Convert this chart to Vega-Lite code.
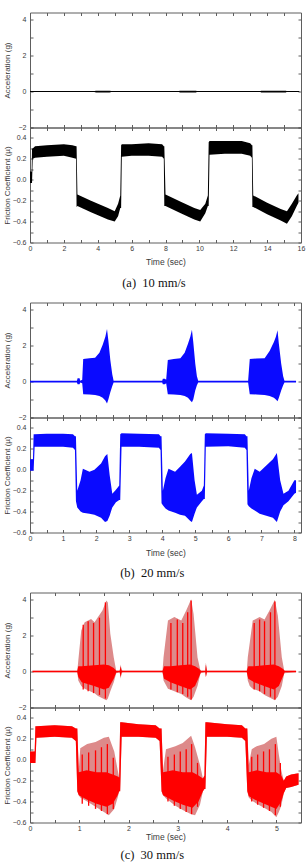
{
"$schema": "https://vega.github.io/schema/vega-lite/v6.json",
"padding": {"left": 2, "right": 2, "top": 11.5, "bottom": 0},
"spacing": 12,
"config": {
  "view": {"stroke": "#5e5e5e", "strokeWidth": 1},
  "axis": {"labelFont": "Liberation Sans", "labelFontSize": 7, "labelColor": "#3a3a3a", "titleFont": "Liberation Sans", "titleFontSize": 8, "titleFontWeight": "normal", "titleColor": "#3a3a3a", "domain": false, "grid": false, "tickColor": "#5e5e5e", "tickSize": -3, "labelFlush": false, "labelOverlap": false},
  "axisX": {"labelPadding": 4.5},
  "axisY": {"labelPadding": 7},
  "title": {"font": "Liberation Serif", "fontSize": 12.5, "fontWeight": "normal", "color": "#111111", "anchor": "middle", "orient": "bottom"}
},
"datasets": {
  "a_acc": [
    {"t":0,"lo":-0.03,"hi":0.03},{"t":3.8,"lo":-0.03,"hi":0.03},{"t":3.9,"lo":-0.05,"hi":0.05},{"t":4.7,"lo":-0.05,"hi":0.05},{"t":4.8,"lo":-0.03,"hi":0.03},
    {"t":8.8,"lo":-0.03,"hi":0.03},{"t":8.85,"lo":-0.05,"hi":0.05},{"t":9.8,"lo":-0.05,"hi":0.05},{"t":9.85,"lo":-0.03,"hi":0.03},
    {"t":13.6,"lo":-0.03,"hi":0.03},{"t":13.65,"lo":-0.05,"hi":0.05},{"t":15.1,"lo":-0.05,"hi":0.05},{"t":15.15,"lo":-0.03,"hi":0.03},{"t":15.9,"lo":-0.03,"hi":0.03}
  ],
  "a_fric": [
    {"t":0,"lo":-0.03,"hi":0.08},{"t":0.1,"lo":-0.03,"hi":0.08},{"t":0.12,"lo":-0.03,"hi":0.3},{"t":0.16,"lo":0.2,"hi":0.3},{"t":0.3,"lo":0.21,"hi":0.32},{"t":1.0,"lo":0.22,"hi":0.33},{"t":2.0,"lo":0.23,"hi":0.34},{"t":2.5,"lo":0.21,"hi":0.33},{"t":2.72,"lo":0.2,"hi":0.32},
    {"t":2.75,"lo":-0.26,"hi":0.32},{"t":2.8,"lo":-0.25,"hi":-0.14},{"t":3.6,"lo":-0.31,"hi":-0.2},{"t":4.6,"lo":-0.38,"hi":-0.27},{"t":5.0,"lo":-0.4,"hi":-0.3},{"t":5.2,"lo":-0.35,"hi":-0.23},{"t":5.33,"lo":-0.27,"hi":-0.15},
    {"t":5.38,"lo":-0.27,"hi":0.33},{"t":5.42,"lo":0.22,"hi":0.34},{"t":6.0,"lo":0.23,"hi":0.34},{"t":7.0,"lo":0.23,"hi":0.35},{"t":7.8,"lo":0.22,"hi":0.34},{"t":7.9,"lo":0.2,"hi":0.32},
    {"t":7.93,"lo":-0.25,"hi":0.32},{"t":8.0,"lo":-0.25,"hi":-0.14},{"t":8.9,"lo":-0.32,"hi":-0.21},{"t":9.7,"lo":-0.38,"hi":-0.27},{"t":10.05,"lo":-0.4,"hi":-0.29},{"t":10.35,"lo":-0.32,"hi":-0.23},{"t":10.5,"lo":-0.25,"hi":-0.15},
    {"t":10.55,"lo":-0.25,"hi":0.36},{"t":10.6,"lo":0.24,"hi":0.37},{"t":11.5,"lo":0.25,"hi":0.37},{"t":12.5,"lo":0.25,"hi":0.37},{"t":13.0,"lo":0.23,"hi":0.35},{"t":13.1,"lo":0.21,"hi":0.33},
    {"t":13.13,"lo":-0.26,"hi":0.33},{"t":13.18,"lo":-0.26,"hi":-0.15},{"t":14.0,"lo":-0.33,"hi":-0.22},{"t":14.8,"lo":-0.39,"hi":-0.28},{"t":15.17,"lo":-0.42,"hi":-0.3},{"t":15.46,"lo":-0.35,"hi":-0.23},{"t":15.75,"lo":-0.25,"hi":-0.15},{"t":15.85,"lo":-0.22,"hi":-0.13}
  ],
  "b_acc": [
    {"t":0,"lo":-0.05,"hi":0.05},{"t":1.42,"lo":-0.05,"hi":0.05},{"t":1.44,"lo":-0.15,"hi":0.18},{"t":1.5,"lo":-0.15,"hi":0.18},{"t":1.52,"lo":-0.05,"hi":0.05},{"t":1.58,"lo":-0.1,"hi":0.1},
    {"t":1.61,"lo":-0.7,"hi":1.25},{"t":1.8,"lo":-0.72,"hi":1.3},{"t":1.97,"lo":-0.75,"hi":1.32},{"t":2.1,"lo":-0.8,"hi":1.6},{"t":2.2,"lo":-0.9,"hi":2.05},{"t":2.28,"lo":-1.05,"hi":2.5},{"t":2.33,"lo":-1.22,"hi":2.92},{"t":2.37,"lo":-1.0,"hi":2.3},{"t":2.43,"lo":-0.6,"hi":1.2},{"t":2.49,"lo":-0.25,"hi":0.4},{"t":2.53,"lo":-0.05,"hi":0.05},
    {"t":4.0,"lo":-0.05,"hi":0.05},{"t":4.02,"lo":-0.15,"hi":0.15},{"t":4.08,"lo":-0.15,"hi":0.15},{"t":4.12,"lo":-0.1,"hi":0.1},
    {"t":4.17,"lo":-0.7,"hi":1.2},{"t":4.35,"lo":-0.72,"hi":1.25},{"t":4.55,"lo":-0.75,"hi":1.3},{"t":4.68,"lo":-0.8,"hi":1.6},{"t":4.78,"lo":-0.9,"hi":2.1},{"t":4.85,"lo":-1.05,"hi":2.5},{"t":4.9,"lo":-1.15,"hi":2.88},{"t":4.94,"lo":-1.0,"hi":2.2},{"t":5.0,"lo":-0.5,"hi":1.0},{"t":5.05,"lo":-0.2,"hi":0.3},{"t":5.09,"lo":-0.05,"hi":0.05},
    {"t":6.6,"lo":-0.05,"hi":0.05},{"t":6.65,"lo":-0.7,"hi":1.25},{"t":6.85,"lo":-0.72,"hi":1.28},{"t":7.1,"lo":-0.75,"hi":1.3},{"t":7.25,"lo":-0.8,"hi":1.7},{"t":7.38,"lo":-0.9,"hi":2.2},{"t":7.44,"lo":-1.0,"hi":2.5},{"t":7.49,"lo":-1.1,"hi":2.85},{"t":7.53,"lo":-0.9,"hi":2.1},{"t":7.6,"lo":-0.5,"hi":1.0},{"t":7.66,"lo":-0.2,"hi":0.3},{"t":7.7,"lo":-0.05,"hi":0.05},{"t":8.05,"lo":-0.05,"hi":0.05}
  ],
  "b_fric": [
    {"t":0,"lo":-0.01,"hi":0.1},{"t":0.09,"lo":-0.01,"hi":0.1},{"t":0.11,"lo":-0.01,"hi":0.34},{"t":0.14,"lo":0.22,"hi":0.34},{"t":0.5,"lo":0.22,"hi":0.345},{"t":1.0,"lo":0.22,"hi":0.345},{"t":1.3,"lo":0.21,"hi":0.34},{"t":1.36,"lo":0.19,"hi":0.32},
    {"t":1.39,"lo":-0.3,"hi":0.32},{"t":1.43,"lo":-0.36,"hi":-0.2},{"t":1.53,"lo":-0.4,"hi":-0.1},{"t":1.6,"lo":-0.41,"hi":0.01},{"t":1.8,"lo":-0.42,"hi":-0.02},{"t":1.95,"lo":-0.43,"hi":0.0},{"t":2.15,"lo":-0.46,"hi":0.06},{"t":2.27,"lo":-0.5,"hi":0.13},{"t":2.34,"lo":-0.49,"hi":0.15},{"t":2.41,"lo":-0.44,"hi":-0.05},{"t":2.49,"lo":-0.36,"hi":-0.23},{"t":2.6,"lo":-0.31,"hi":-0.19},{"t":2.7,"lo":-0.29,"hi":-0.15},
    {"t":2.73,"lo":-0.29,"hi":0.34},{"t":2.77,"lo":0.22,"hi":0.35},{"t":3.3,"lo":0.22,"hi":0.345},{"t":3.9,"lo":0.21,"hi":0.34},{"t":3.95,"lo":0.19,"hi":0.32},
    {"t":3.98,"lo":-0.32,"hi":0.32},{"t":4.02,"lo":-0.34,"hi":-0.2},{"t":4.1,"lo":-0.37,"hi":-0.08},{"t":4.19,"lo":-0.39,"hi":0.01},{"t":4.39,"lo":-0.41,"hi":-0.02},{"t":4.54,"lo":-0.43,"hi":0.03},{"t":4.69,"lo":-0.44,"hi":0.08},{"t":4.85,"lo":-0.49,"hi":0.15},{"t":4.9,"lo":-0.5,"hi":0.16},{"t":4.98,"lo":-0.42,"hi":-0.1},{"t":5.05,"lo":-0.36,"hi":-0.24},{"t":5.2,"lo":-0.3,"hi":-0.2},{"t":5.26,"lo":-0.28,"hi":-0.15},
    {"t":5.29,"lo":-0.28,"hi":0.34},{"t":5.32,"lo":0.22,"hi":0.35},{"t":6.0,"lo":0.225,"hi":0.345},{"t":6.5,"lo":0.21,"hi":0.34},{"t":6.55,"lo":0.19,"hi":0.32},
    {"t":6.58,"lo":-0.33,"hi":0.32},{"t":6.62,"lo":-0.35,"hi":-0.2},{"t":6.7,"lo":-0.37,"hi":-0.08},{"t":6.8,"lo":-0.39,"hi":0.01},{"t":6.95,"lo":-0.42,"hi":-0.02},{"t":7.15,"lo":-0.44,"hi":0.04},{"t":7.35,"lo":-0.46,"hi":0.1},{"t":7.47,"lo":-0.5,"hi":0.16},{"t":7.57,"lo":-0.4,"hi":-0.1},{"t":7.67,"lo":-0.34,"hi":-0.23},{"t":7.82,"lo":-0.3,"hi":-0.2},{"t":8.0,"lo":-0.23,"hi":-0.1},{"t":8.05,"lo":-0.22,"hi":-0.1}
  ],
  "c_acc_outer": [
    {"t":0.05,"lo":-0.04,"hi":0.04},{"t":0.96,"lo":-0.04,"hi":0.04},{"t":0.98,"lo":-0.5,"hi":0.6},{"t":1.04,"lo":-0.8,"hi":2.28},{"t":1.11,"lo":-0.95,"hi":2.75},{"t":1.24,"lo":-1.12,"hi":2.93},{"t":1.31,"lo":-1.2,"hi":2.75},{"t":1.38,"lo":-1.36,"hi":3.03},{"t":1.47,"lo":-1.48,"hi":3.4},{"t":1.55,"lo":-1.6,"hi":3.96},{"t":1.58,"lo":-1.5,"hi":3.85},{"t":1.63,"lo":-1.1,"hi":2.1},{"t":1.7,"lo":-0.6,"hi":0.78},{"t":1.75,"lo":-0.1,"hi":0.05},
    {"t":1.82,"lo":-0.04,"hi":0.04},{"t":1.84,"lo":-0.4,"hi":0.4},{"t":1.86,"lo":-0.1,"hi":0.1},{"t":1.88,"lo":-0.04,"hi":0.04},
    {"t":2.69,"lo":-0.04,"hi":0.04},{"t":2.71,"lo":-0.5,"hi":0.8},{"t":2.8,"lo":-0.95,"hi":2.84},{"t":2.93,"lo":-1.1,"hi":3.03},{"t":3.07,"lo":-1.25,"hi":2.84},{"t":3.17,"lo":-1.45,"hi":3.4},{"t":3.27,"lo":-1.6,"hi":4.03},{"t":3.32,"lo":-1.4,"hi":3.2},{"t":3.4,"lo":-0.8,"hi":0.78},{"t":3.46,"lo":-0.1,"hi":0.05},
    {"t":3.55,"lo":-0.04,"hi":0.04},{"t":3.57,"lo":-0.3,"hi":0.5},{"t":3.59,"lo":-0.04,"hi":0.04},
    {"t":4.4,"lo":-0.04,"hi":0.04},{"t":4.42,"lo":-0.5,"hi":0.8},{"t":4.46,"lo":-0.8,"hi":1.6},{"t":4.52,"lo":-0.95,"hi":2.84},{"t":4.66,"lo":-1.1,"hi":3.03},{"t":4.76,"lo":-1.3,"hi":2.9},{"t":4.86,"lo":-1.45,"hi":3.4},{"t":4.97,"lo":-1.6,"hi":4.0},{"t":5.03,"lo":-1.4,"hi":3.1},{"t":5.11,"lo":-0.8,"hi":0.8},{"t":5.16,"lo":-0.1,"hi":0.05},{"t":5.4,"lo":-0.04,"hi":0.04}
  ],
  "c_acc_core": [
    {"t":0.05,"lo":-0.04,"hi":0.04},{"t":0.96,"lo":-0.04,"hi":0.04},{"t":0.98,"lo":-0.3,"hi":0.3},{"t":1.05,"lo":-0.6,"hi":0.3},{"t":1.3,"lo":-0.8,"hi":0.35},{"t":1.5,"lo":-1.0,"hi":0.4},{"t":1.6,"lo":-0.9,"hi":0.35},{"t":1.7,"lo":-0.4,"hi":0.2},{"t":1.75,"lo":-0.05,"hi":0.05},
    {"t":1.82,"lo":-0.04,"hi":0.04},{"t":1.84,"lo":-0.3,"hi":0.3},{"t":1.86,"lo":-0.04,"hi":0.04},
    {"t":2.69,"lo":-0.04,"hi":0.04},{"t":2.72,"lo":-0.4,"hi":0.3},{"t":2.85,"lo":-0.6,"hi":0.3},{"t":3.05,"lo":-0.8,"hi":0.35},{"t":3.25,"lo":-1.0,"hi":0.4},{"t":3.35,"lo":-0.8,"hi":0.3},{"t":3.43,"lo":-0.3,"hi":0.15},{"t":3.47,"lo":-0.04,"hi":0.04},
    {"t":3.56,"lo":-0.04,"hi":0.04},{"t":3.57,"lo":-0.3,"hi":0.4},{"t":3.59,"lo":-0.04,"hi":0.04},
    {"t":4.4,"lo":-0.04,"hi":0.04},{"t":4.43,"lo":-0.4,"hi":0.3},{"t":4.55,"lo":-0.6,"hi":0.3},{"t":4.75,"lo":-0.8,"hi":0.35},{"t":4.95,"lo":-1.0,"hi":0.4},{"t":5.05,"lo":-0.8,"hi":0.3},{"t":5.13,"lo":-0.3,"hi":0.15},{"t":5.17,"lo":-0.04,"hi":0.04},{"t":5.4,"lo":-0.04,"hi":0.04}
  ],
  "c_acc_spikes": [
    {"t":1.08,"lo":-1.0,"hi":2.6},{"t":1.18,"lo":-1.1,"hi":2.8},{"t":1.29,"lo":-1.2,"hi":2.7},{"t":1.41,"lo":-1.3,"hi":3.0},{"t":1.53,"lo":-1.5,"hi":3.85},
    {"t":2.86,"lo":-1.0,"hi":2.7},{"t":2.99,"lo":-1.15,"hi":2.9},{"t":3.1,"lo":-1.25,"hi":2.7},{"t":3.2,"lo":-1.4,"hi":3.3},{"t":3.27,"lo":-1.55,"hi":3.95},
    {"t":4.55,"lo":-1.0,"hi":2.7},{"t":4.66,"lo":-1.1,"hi":2.9},{"t":4.76,"lo":-1.25,"hi":2.8},{"t":4.88,"lo":-1.4,"hi":3.3},{"t":4.97,"lo":-1.55,"hi":3.9}
  ],
  "c_fric_outer": [
    {"t":0,"lo":-0.03,"hi":0.08},{"t":0.095,"lo":-0.03,"hi":0.08},{"t":0.11,"lo":-0.03,"hi":0.32},{"t":0.13,"lo":0.21,"hi":0.32},{"t":0.5,"lo":0.22,"hi":0.33},{"t":0.85,"lo":0.21,"hi":0.32},{"t":0.93,"lo":0.18,"hi":0.3},
    {"t":0.96,"lo":-0.3,"hi":0.3},{"t":0.99,"lo":-0.34,"hi":-0.1},{"t":1.02,"lo":-0.36,"hi":0.11},{"t":1.16,"lo":-0.4,"hi":0.15},{"t":1.33,"lo":-0.45,"hi":0.17},{"t":1.5,"lo":-0.5,"hi":0.21},{"t":1.6,"lo":-0.53,"hi":0.22},{"t":1.71,"lo":-0.47,"hi":0.08},{"t":1.78,"lo":-0.36,"hi":-0.1},{"t":1.81,"lo":-0.3,"hi":-0.17},
    {"t":1.83,"lo":-0.3,"hi":0.36},{"t":1.86,"lo":0.22,"hi":0.36},{"t":2.2,"lo":0.22,"hi":0.34},{"t":2.55,"lo":0.21,"hi":0.33},{"t":2.63,"lo":0.18,"hi":0.3},
    {"t":2.67,"lo":-0.3,"hi":0.3},{"t":2.7,"lo":-0.34,"hi":-0.1},{"t":2.76,"lo":-0.37,"hi":0.1},{"t":2.95,"lo":-0.44,"hi":0.13},{"t":3.1,"lo":-0.48,"hi":0.16},{"t":3.27,"lo":-0.52,"hi":0.23},{"t":3.35,"lo":-0.53,"hi":0.12},{"t":3.45,"lo":-0.43,"hi":-0.05},{"t":3.51,"lo":-0.3,"hi":-0.18},{"t":3.54,"lo":-0.28,"hi":-0.15},
    {"t":3.56,"lo":-0.28,"hi":0.36},{"t":3.59,"lo":0.22,"hi":0.36},{"t":4.0,"lo":0.22,"hi":0.34},{"t":4.3,"lo":0.21,"hi":0.33},{"t":4.37,"lo":0.18,"hi":0.3},
    {"t":4.41,"lo":-0.3,"hi":0.3},{"t":4.44,"lo":-0.36,"hi":-0.05},{"t":4.5,"lo":-0.39,"hi":0.1},{"t":4.6,"lo":-0.42,"hi":0.13},{"t":4.75,"lo":-0.46,"hi":0.15},{"t":4.9,"lo":-0.5,"hi":0.2},{"t":5.0,"lo":-0.55,"hi":0.22},{"t":5.05,"lo":-0.5,"hi":0.05},{"t":5.1,"lo":-0.44,"hi":-0.1},{"t":5.15,"lo":-0.32,"hi":-0.2},{"t":5.2,"lo":-0.27,"hi":-0.16},{"t":5.3,"lo":-0.26,"hi":-0.14},{"t":5.45,"lo":-0.24,"hi":-0.13}
  ],
  "c_fric_core": [
    {"t":0,"lo":-0.03,"hi":0.08},{"t":0.095,"lo":-0.03,"hi":0.08},{"t":0.11,"lo":-0.03,"hi":0.32},{"t":0.13,"lo":0.21,"hi":0.32},{"t":0.5,"lo":0.22,"hi":0.33},{"t":0.85,"lo":0.21,"hi":0.32},{"t":0.93,"lo":0.18,"hi":0.3},
    {"t":0.96,"lo":-0.3,"hi":0.3},{"t":0.99,"lo":-0.34,"hi":-0.12},{"t":1.15,"lo":-0.38,"hi":-0.1},{"t":1.35,"lo":-0.42,"hi":-0.12},{"t":1.55,"lo":-0.45,"hi":-0.12},{"t":1.68,"lo":-0.42,"hi":-0.14},{"t":1.78,"lo":-0.34,"hi":-0.16},{"t":1.81,"lo":-0.3,"hi":-0.17},
    {"t":1.83,"lo":-0.3,"hi":0.36},{"t":1.86,"lo":0.22,"hi":0.36},{"t":2.2,"lo":0.22,"hi":0.34},{"t":2.55,"lo":0.21,"hi":0.33},{"t":2.63,"lo":0.18,"hi":0.3},
    {"t":2.67,"lo":-0.3,"hi":0.3},{"t":2.7,"lo":-0.34,"hi":-0.12},{"t":2.9,"lo":-0.39,"hi":-0.1},{"t":3.1,"lo":-0.43,"hi":-0.12},{"t":3.3,"lo":-0.46,"hi":-0.12},{"t":3.42,"lo":-0.4,"hi":-0.15},{"t":3.51,"lo":-0.3,"hi":-0.18},{"t":3.54,"lo":-0.28,"hi":-0.15},
    {"t":3.56,"lo":-0.28,"hi":0.36},{"t":3.59,"lo":0.22,"hi":0.36},{"t":4.0,"lo":0.22,"hi":0.34},{"t":4.3,"lo":0.21,"hi":0.33},{"t":4.37,"lo":0.18,"hi":0.3},
    {"t":4.41,"lo":-0.3,"hi":0.3},{"t":4.44,"lo":-0.35,"hi":-0.12},{"t":4.6,"lo":-0.39,"hi":-0.1},{"t":4.8,"lo":-0.43,"hi":-0.12},{"t":5.0,"lo":-0.47,"hi":-0.12},{"t":5.1,"lo":-0.4,"hi":-0.15},{"t":5.15,"lo":-0.32,"hi":-0.2},{"t":5.2,"lo":-0.27,"hi":-0.16},{"t":5.3,"lo":-0.26,"hi":-0.14},{"t":5.45,"lo":-0.24,"hi":-0.13}
  ],
  "c_fric_spikes": [
    {"t":1.06,"lo":-0.42,"hi":0.05},{"t":1.19,"lo":-0.44,"hi":0.07},{"t":1.33,"lo":-0.47,"hi":0.09},{"t":1.45,"lo":-0.49,"hi":0.12},{"t":1.57,"lo":-0.52,"hi":0.15},{"t":1.69,"lo":-0.47,"hi":0.02},
    {"t":2.8,"lo":-0.4,"hi":0.03},{"t":2.93,"lo":-0.44,"hi":0.05},{"t":3.05,"lo":-0.47,"hi":0.08},{"t":3.17,"lo":-0.5,"hi":0.1},{"t":3.28,"lo":-0.52,"hi":0.15},{"t":3.4,"lo":-0.45,"hi":-0.03},
    {"t":4.5,"lo":-0.4,"hi":0.03},{"t":4.62,"lo":-0.43,"hi":0.05},{"t":4.74,"lo":-0.46,"hi":0.08},{"t":4.86,"lo":-0.49,"hi":0.1},{"t":4.98,"lo":-0.53,"hi":0.15},{"t":5.08,"lo":-0.45,"hi":-0.03}
  ]
},
"vconcat": [
 {
  "title": {"text": "(a)\u00a0 10 mm/s", "offset": 10},
  "spacing": 0,
  "bounds": "flush",
  "vconcat": [
   {
    "width": 271, "height": 115,
    "layer": [
     {"data": {"name": "a_acc"}, "mark": {"type": "area", "color": "#000000", "opacity": 1},
      "encoding": {
       "x": {"field": "t", "type": "quantitative", "scale": {"domain": [0, 16], "nice": false, "zero": false}, "axis": {"orient": "bottom", "values": [0,1,2,3,4,5,6,7,8,9,10,11,12,13,14,15,16], "labels": false, "title": null}},
       "y": {"field": "lo", "type": "quantitative", "scale": {"domain": [-2, 4.4], "nice": false, "zero": false}, "axis": {"values": [-2,-1,0,1,2,3,4], "format": ".0f", "labelExpr": "datum.value % 2 == 0 ? datum.label : ''", "title": "Acceleration (g)", "titleX": -19}},
       "y2": {"field": "hi"}}},
     {"data": {"name": "a_acc"}, "mark": {"type": "area", "opacity": 0},
      "encoding": {
       "x": {"field": "t", "type": "quantitative", "scale": {"domain": [0, 16], "nice": false, "zero": false}, "axis": {"orient": "top", "values": [0,1,2,3,4,5,6,7,8,9,10,11,12,13,14,15,16], "labels": false, "title": null}},
       "y": {"field": "lo", "type": "quantitative", "scale": {"domain": [-2, 4.4], "nice": false, "zero": false}, "axis": {"orient": "right", "values": [-2,-1,0,1,2,3,4], "labels": false, "title": null}},
       "y2": {"field": "hi"}}}
    ],
    "resolve": {"axis": {"x": "independent", "y": "independent"}}
   },
   {
    "width": 271, "height": 115,
    "layer": [
     {"data": {"name": "a_fric"}, "mark": {"type": "area", "color": "#000000", "opacity": 1},
      "encoding": {
       "x": {"field": "t", "type": "quantitative", "scale": {"domain": [0, 16], "nice": false, "zero": false}, "axis": {"orient": "bottom", "values": [0,1,2,3,4,5,6,7,8,9,10,11,12,13,14,15,16], "format": ".0f", "labelExpr": "datum.value % 2 == 0 ? datum.label : ''", "title": "Time (sec)", "titlePadding": 6.5, "titleFontSize": 8.5}},
       "y": {"field": "lo", "type": "quantitative", "scale": {"domain": [-0.6, 0.5], "nice": false, "zero": false}, "axis": {"values": [-0.6,-0.5,-0.4,-0.3,-0.2,-0.1,0,0.1,0.2,0.3,0.4,0.5], "format": ".1f", "labelExpr": "abs(round(datum.value*10)) % 2 == 0 ? datum.label : ''", "title": "Friction Coefficient (\u00b5)", "titleX": -19}},
       "y2": {"field": "hi"}}},
     {"data": {"name": "a_fric"}, "mark": {"type": "area", "opacity": 0},
      "encoding": {
       "x": {"field": "t", "type": "quantitative", "scale": {"domain": [0, 16], "nice": false, "zero": false}, "axis": {"orient": "top", "values": [0,1,2,3,4,5,6,7,8,9,10,11,12,13,14,15,16], "labels": false, "title": null}},
       "y": {"field": "lo", "type": "quantitative", "scale": {"domain": [-0.6, 0.5], "nice": false, "zero": false}, "axis": {"orient": "right", "values": [-0.6,-0.5,-0.4,-0.3,-0.2,-0.1,0,0.1,0.2,0.3,0.4,0.5], "labels": false, "title": null}},
       "y2": {"field": "hi"}}}
    ],
    "resolve": {"axis": {"x": "independent", "y": "independent"}}
   }
  ]
 },
 {
  "title": {"text": "(b)\u00a0 20 mm/s", "offset": 10},
  "spacing": 0,
  "bounds": "flush",
  "vconcat": [
   {
    "width": 271, "height": 115,
    "layer": [
     {"data": {"name": "b_acc"}, "mark": {"type": "area", "color": "#0a0aff", "opacity": 1},
      "encoding": {
       "x": {"field": "t", "type": "quantitative", "scale": {"domain": [0, 8.2], "nice": false, "zero": false}, "axis": {"orient": "bottom", "values": [0,0.5,1,1.5,2,2.5,3,3.5,4,4.5,5,5.5,6,6.5,7,7.5,8], "labels": false, "title": null}},
       "y": {"field": "lo", "type": "quantitative", "scale": {"domain": [-2, 4.4], "nice": false, "zero": false}, "axis": {"values": [-2,-1,0,1,2,3,4], "format": ".0f", "labelExpr": "datum.value % 2 == 0 ? datum.label : ''", "title": "Acceleration (g)", "titleX": -19}},
       "y2": {"field": "hi"}}},
     {"data": {"name": "b_acc"}, "mark": {"type": "area", "opacity": 0},
      "encoding": {
       "x": {"field": "t", "type": "quantitative", "scale": {"domain": [0, 8.2], "nice": false, "zero": false}, "axis": {"orient": "top", "values": [0,0.5,1,1.5,2,2.5,3,3.5,4,4.5,5,5.5,6,6.5,7,7.5,8], "labels": false, "title": null}},
       "y": {"field": "lo", "type": "quantitative", "scale": {"domain": [-2, 4.4], "nice": false, "zero": false}, "axis": {"orient": "right", "values": [-2,-1,0,1,2,3,4], "labels": false, "title": null}},
       "y2": {"field": "hi"}}}
    ],
    "resolve": {"axis": {"x": "independent", "y": "independent"}}
   },
   {
    "width": 271, "height": 115,
    "layer": [
     {"data": {"name": "b_fric"}, "mark": {"type": "area", "color": "#0a0aff", "opacity": 1},
      "encoding": {
       "x": {"field": "t", "type": "quantitative", "scale": {"domain": [0, 8.2], "nice": false, "zero": false}, "axis": {"orient": "bottom", "values": [0,0.5,1,1.5,2,2.5,3,3.5,4,4.5,5,5.5,6,6.5,7,7.5,8], "format": ".0f", "labelExpr": "datum.value % 1 == 0 ? datum.label : ''", "title": "Time (sec)", "titlePadding": 7, "titleFontSize": 8.5}},
       "y": {"field": "lo", "type": "quantitative", "scale": {"domain": [-0.6, 0.5], "nice": false, "zero": false}, "axis": {"values": [-0.6,-0.5,-0.4,-0.3,-0.2,-0.1,0,0.1,0.2,0.3,0.4,0.5], "format": ".1f", "labelExpr": "abs(round(datum.value*10)) % 2 == 0 ? datum.label : ''", "title": "Friction Coefficient (\u00b5)", "titleX": -19}},
       "y2": {"field": "hi"}}},
     {"data": {"name": "b_fric"}, "mark": {"type": "area", "opacity": 0},
      "encoding": {
       "x": {"field": "t", "type": "quantitative", "scale": {"domain": [0, 8.2], "nice": false, "zero": false}, "axis": {"orient": "top", "values": [0,0.5,1,1.5,2,2.5,3,3.5,4,4.5,5,5.5,6,6.5,7,7.5,8], "labels": false, "title": null}},
       "y": {"field": "lo", "type": "quantitative", "scale": {"domain": [-0.6, 0.5], "nice": false, "zero": false}, "axis": {"orient": "right", "values": [-0.6,-0.5,-0.4,-0.3,-0.2,-0.1,0,0.1,0.2,0.3,0.4,0.5], "labels": false, "title": null}},
       "y2": {"field": "hi"}}}
    ],
    "resolve": {"axis": {"x": "independent", "y": "independent"}}
   }
  ]
 },
 {
  "title": {"text": "(c)\u00a0 30 mm/s", "offset": 7.5},
  "spacing": 0,
  "bounds": "flush",
  "vconcat": [
   {
    "width": 271, "height": 115,
    "layer": [
     {"data": {"name": "c_acc_outer"}, "mark": {"type": "area", "color": "#dd8a8a", "opacity": 1},
      "encoding": {
       "x": {"field": "t", "type": "quantitative", "scale": {"domain": [0, 5.5], "nice": false, "zero": false}, "axis": {"orient": "bottom", "values": [0,0.5,1,1.5,2,2.5,3,3.5,4,4.5,5,5.5], "labels": false, "title": null}},
       "y": {"field": "lo", "type": "quantitative", "scale": {"domain": [-2, 4.4], "nice": false, "zero": false}, "axis": {"values": [-2,-1,0,1,2,3,4], "format": ".0f", "labelExpr": "datum.value % 2 == 0 ? datum.label : ''", "title": "Acceleration (g)", "titleX": -19}},
       "y2": {"field": "hi"}}},
     {"data": {"name": "c_acc_core"}, "mark": {"type": "area", "color": "#ff0000", "opacity": 1},
      "encoding": {
       "x": {"field": "t", "type": "quantitative", "axis": null},
       "y": {"field": "lo", "type": "quantitative", "axis": null},
       "y2": {"field": "hi"}}},
     {"data": {"name": "c_acc_spikes"}, "mark": {"type": "rule", "color": "#ff0000", "strokeWidth": 1.3},
      "encoding": {
       "x": {"field": "t", "type": "quantitative", "axis": null},
       "y": {"field": "lo", "type": "quantitative", "axis": null},
       "y2": {"field": "hi"}}},
     {"data": {"name": "c_acc_outer"}, "mark": {"type": "area", "opacity": 0},
      "encoding": {
       "x": {"field": "t", "type": "quantitative", "scale": {"domain": [0, 5.5], "nice": false, "zero": false}, "axis": {"orient": "top", "values": [0,0.5,1,1.5,2,2.5,3,3.5,4,4.5,5,5.5], "labels": false, "title": null}},
       "y": {"field": "lo", "type": "quantitative", "scale": {"domain": [-2, 4.4], "nice": false, "zero": false}, "axis": {"orient": "right", "values": [-2,-1,0,1,2,3,4], "labels": false, "title": null}},
       "y2": {"field": "hi"}}}
    ],
    "resolve": {"axis": {"x": "independent", "y": "independent"}}
   },
   {
    "width": 271, "height": 115,
    "layer": [
     {"data": {"name": "c_fric_outer"}, "mark": {"type": "area", "color": "#dd8a8a", "opacity": 1},
      "encoding": {
       "x": {"field": "t", "type": "quantitative", "scale": {"domain": [0, 5.5], "nice": false, "zero": false}, "axis": {"orient": "bottom", "values": [0,0.5,1,1.5,2,2.5,3,3.5,4,4.5,5,5.5], "format": ".0f", "labelExpr": "datum.value % 1 == 0 ? datum.label : ''", "title": "Time (sec)", "titlePadding": 1.5, "titleFontSize": 8.5}},
       "y": {"field": "lo", "type": "quantitative", "scale": {"domain": [-0.6, 0.5], "nice": false, "zero": false}, "axis": {"values": [-0.6,-0.5,-0.4,-0.3,-0.2,-0.1,0,0.1,0.2,0.3,0.4,0.5], "format": ".1f", "labelExpr": "abs(round(datum.value*10)) % 2 == 0 ? datum.label : ''", "title": "Friction Coefficient (\u00b5)", "titleX": -19}},
       "y2": {"field": "hi"}}},
     {"data": {"name": "c_fric_core"}, "mark": {"type": "area", "color": "#ff0000", "opacity": 1},
      "encoding": {
       "x": {"field": "t", "type": "quantitative", "axis": null},
       "y": {"field": "lo", "type": "quantitative", "axis": null},
       "y2": {"field": "hi"}}},
     {"data": {"name": "c_fric_spikes"}, "mark": {"type": "rule", "color": "#ff0000", "strokeWidth": 1.3},
      "encoding": {
       "x": {"field": "t", "type": "quantitative", "axis": null},
       "y": {"field": "lo", "type": "quantitative", "axis": null},
       "y2": {"field": "hi"}}},
     {"data": {"name": "c_fric_outer"}, "mark": {"type": "area", "opacity": 0},
      "encoding": {
       "x": {"field": "t", "type": "quantitative", "scale": {"domain": [0, 5.5], "nice": false, "zero": false}, "axis": {"orient": "top", "values": [0,0.5,1,1.5,2,2.5,3,3.5,4,4.5,5,5.5], "labels": false, "title": null}},
       "y": {"field": "lo", "type": "quantitative", "scale": {"domain": [-0.6, 0.5], "nice": false, "zero": false}, "axis": {"orient": "right", "values": [-0.6,-0.5,-0.4,-0.3,-0.2,-0.1,0,0.1,0.2,0.3,0.4,0.5], "labels": false, "title": null}},
       "y2": {"field": "hi"}}}
    ],
    "resolve": {"axis": {"x": "independent", "y": "independent"}}
   }
  ]
 }
]
}
